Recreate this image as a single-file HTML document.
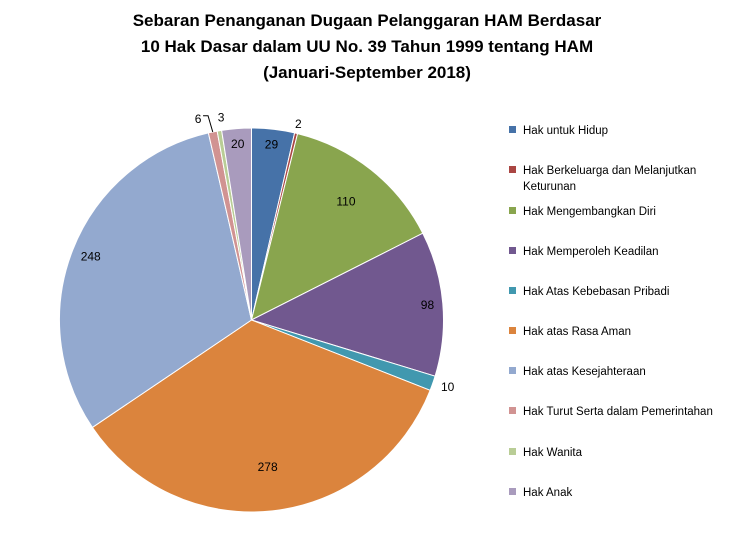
<!DOCTYPE html>
<html><head><meta charset="utf-8"><style>
body{margin:0;background:#fff;font-family:"Liberation Sans",sans-serif;}
svg{display:block}
</style></head><body>
<svg id="chart" width="735" height="553">
<g font-weight="bold" font-size="17" text-anchor="middle" fill="#000">
<text x="367" y="26">Sebaran Penanganan Dugaan Pelanggaran HAM Berdasar</text>
<text x="367" y="52">10 Hak Dasar dalam UU No. 39 Tahun 1999 tentang HAM</text>
<text x="367" y="78">(Januari-September 2018)</text>
</g>
<g id="slices"></g><g id="labels"></g><g id="legend"></g>
</svg>
<script>
const categories=["Hak untuk Hidup","Hak Berkeluarga dan Melanjutkan|Keturunan","Hak Mengembangkan  Diri","Hak Memperoleh Keadilan","Hak Atas Kebebasan Pribadi","Hak atas Rasa Aman","Hak atas Kesejahteraan","Hak Turut Serta dalam Pemerintahan","Hak Wanita","Hak Anak"];
const values=[29,2,110,98,10,278,248,6,3,20];
const colors=["#4672A8","#AA4643","#89A54E","#71588F","#4198AF","#DB843D","#93A9CF","#D19392","#B9CD96","#A99BBD"];
const labelRadius=[0.92,1.05,0.79,0.92,1.06,0.77,0.9,1.07,1.07,0.92];
const NS="http://www.w3.org/2000/svg";
const cx=251.5,cy=320,r=192;
const total=values.reduce((a,b)=>a+b,0);
const sl=document.getElementById('slices'),lb=document.getElementById('labels'),lg=document.getElementById('legend');
function pt(a,rr){return [cx+rr*Math.sin(a),cy-rr*Math.cos(a)];}
let a0=0;
values.forEach((v,i)=>{
  const a1=a0+v/total*2*Math.PI;
  const p0=pt(a0,r),p1=pt(a1,r);
  const p=document.createElementNS(NS,'path');
  p.setAttribute('d',`M${cx},${cy}L${p0[0]},${p0[1]}A${r},${r} 0 ${a1-a0>Math.PI?1:0} 1 ${p1[0]},${p1[1]}Z`);
  p.setAttribute('fill',colors[i]);p.setAttribute('stroke','#fff');p.setAttribute('stroke-width','1');
  
  
  sl.appendChild(p);
  const m=(a0+a1)/2;
  let q=pt(m,r*labelRadius[i]);
  if(i==7) q[0]-=12;
  if(i==8) q[0]+=4;
  if(i==4) q[0]+=4;
  const t=document.createElementNS(NS,'text');
  t.setAttribute('x',q[0]);t.setAttribute('y',q[1]+4);
  t.setAttribute('text-anchor','middle');t.setAttribute('font-size','12');
  t.textContent=v;
  
  
  lb.appendChild(t);
  if(i==7){const l=document.createElementNS(NS,'path');
    const e=pt(m,r);l.setAttribute('d',`M${q[0]+5},${q[1]-3}L${q[0]+10},${q[1]-3}L${e[0]},${e[1]}`);
    l.setAttribute('stroke','#000');l.setAttribute('fill','none');lb.appendChild(l);}
  a0=a1;
});
const rowsY=[130,170,211,251,291,331,371,411,452,492];
categories.forEach((c,i)=>{
  const g=document.createElementNS(NS,'g');
  
  
  const s=document.createElementNS(NS,'rect');
  s.setAttribute('x',509);s.setAttribute('y',rowsY[i]-4);s.setAttribute('width',7);s.setAttribute('height',7);s.setAttribute('fill',colors[i]);
  g.appendChild(s);
  c.split('|').forEach((ln,j)=>{
    const t=document.createElementNS(NS,'text');
    t.setAttribute('x',523);t.setAttribute('y',rowsY[i]+4+j*16);t.setAttribute('font-size','11.5');
    t.textContent=ln;g.appendChild(t);
  });
  lg.appendChild(g);
});
</script>
</body></html>
